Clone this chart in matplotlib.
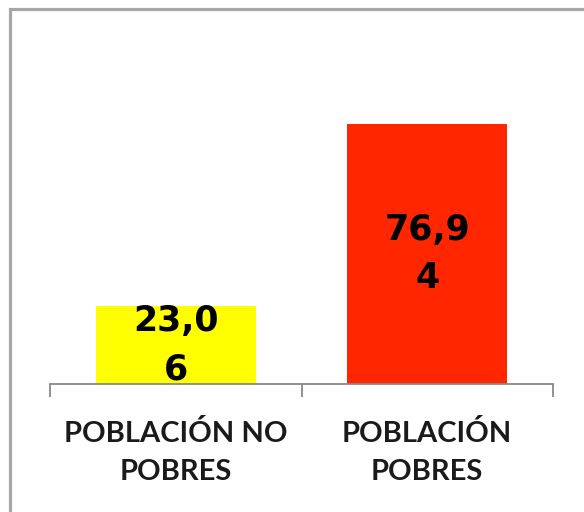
import matplotlib
matplotlib.use("Agg")
import matplotlib.pyplot as plt
from matplotlib.patches import Rectangle

categories = ["POBLACIÓN NO\nPOBRES", "POBLACIÓN\nPOBRES"]
values = [23.06, 76.94]
value_labels = ["23,0\n6", "76,9\n4"]
colors = ["#ffff00", "#ff2600"]

W, H = 584, 512
fig = plt.figure(figsize=(W / 100, H / 100), dpi=100)
fig.patch.set_facecolor("white")

# outer chart border (extends beyond the right/bottom edge)
fig.patches.append(Rectangle((10 / W, -0.2), 1.5, 1 - 9 / H + 0.2, transform=fig.transFigure,
                             fill=False, edgecolor="#a6a6a6", linewidth=2.3, zorder=0))

ymax = 90
base = 384
top = base - ymax * 3.379
ax = fig.add_axes([50 / W, 1 - base / H, (553 - 50) / W, (base - top) / H])
ax.set_facecolor("none")

x = list(range(len(categories)))
bars = ax.bar(x, values, width=0.636, color=colors, zorder=2)
ax.set_xlim(-0.5, 1.5)
ax.set_ylim(0, ymax)

for s in ["top", "right", "left"]:
    ax.spines[s].set_visible(False)
ax.spines["bottom"].set_color("#888888")
ax.spines["bottom"].set_linewidth(1.3)
ax.set_yticks([])
ax.set_xticks([-0.5, 0.5, 1.5])
ax.set_xticklabels([])
ax.tick_params(axis="x", which="major", length=9.5, width=1.3, color="#888888", direction="out")

for i, (v, lab) in enumerate(zip(values, value_labels)):
    ax.text(i, v / 2, lab, ha="center", va="center", fontsize=25, fontweight="bold",
            family="DejaVu Sans", color="black", linespacing=1.55, zorder=3)

for i, cat in enumerate(categories):
    ax.annotate(cat, xy=(i, 0), xycoords=("data", "axes fraction"), xytext=(0, -26),
                textcoords="offset points", ha="center", va="top", fontsize=21,
                fontweight="bold", family="Lato", color="#1a1a1a", linespacing=1.55)

fig.savefig("out.png", dpi=100, facecolor="white")
